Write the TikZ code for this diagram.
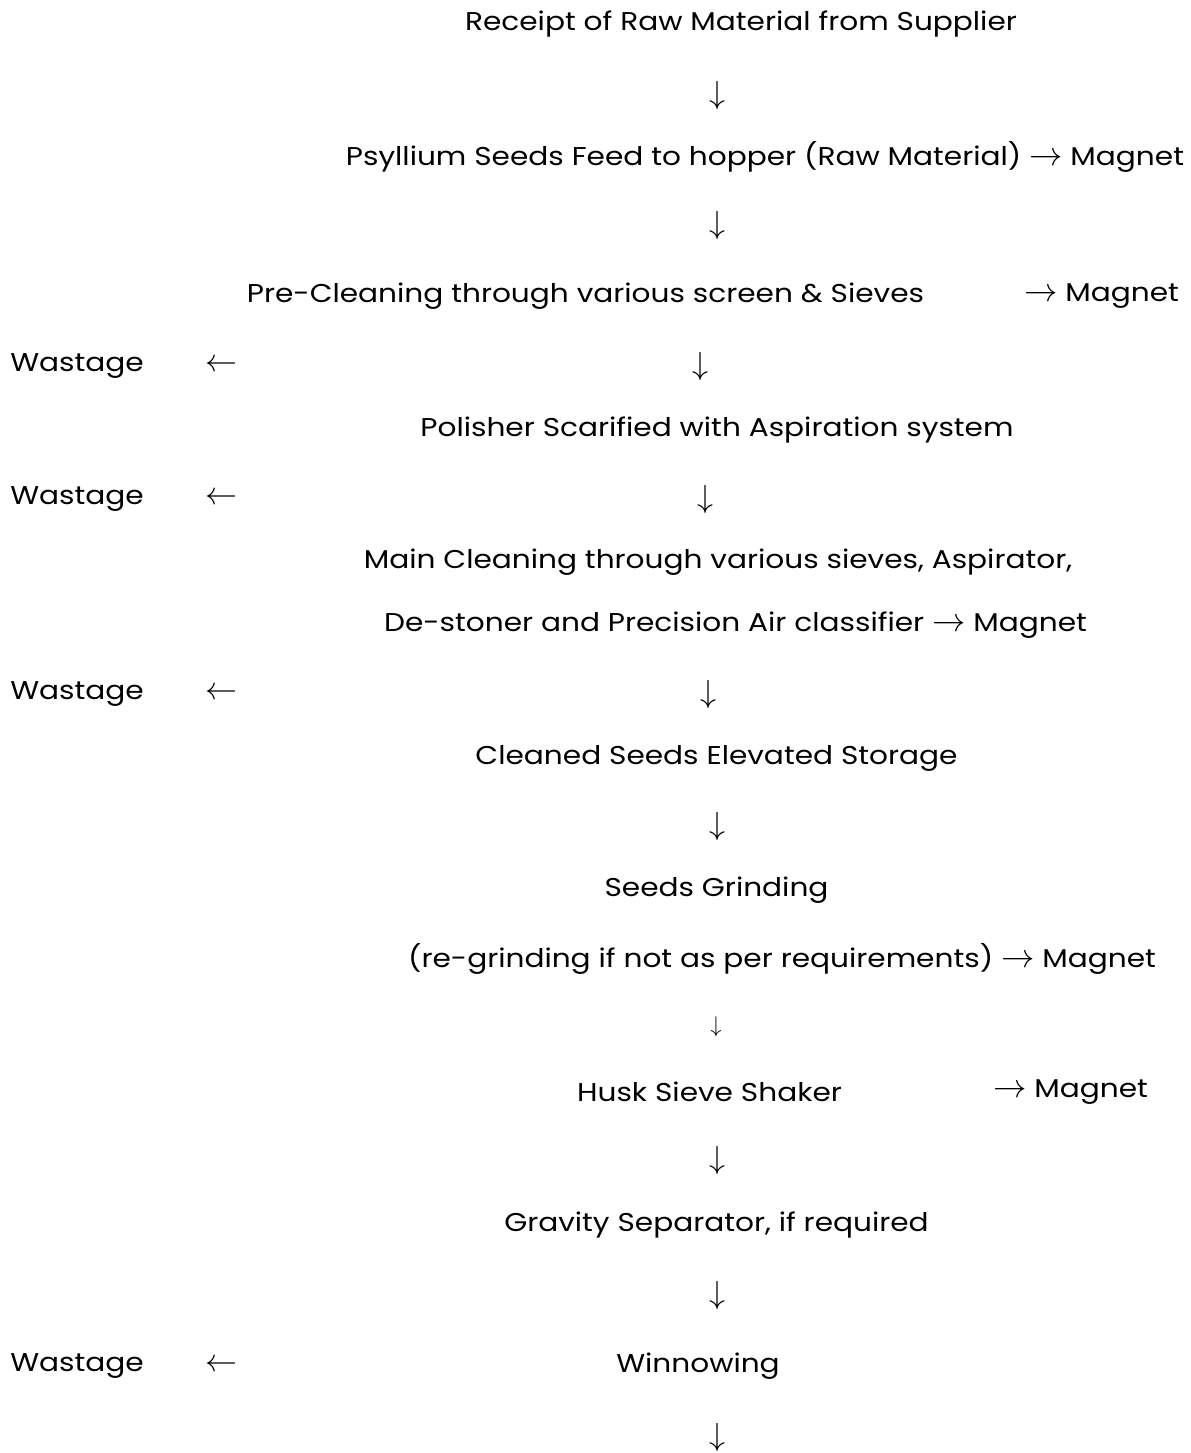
\RequirePackage{fix-cm}
\documentclass[tikz,border=0pt]{standalone}
\usepackage{fontspec}
\setmainfont{Poppins}[FakeStretch=1.15]
\tikzset{every picture/.style={line width=0.75pt}}
\tikzset{
  flowtext/.style={inner sep=0.75pt, font=\fontsize{19.3}{23}\selectfont},
  flowarrow/.style={inner sep=0pt, font=\fontsize{24}{24}\selectfont},
  smallarrow/.style={inner sep=0pt, font=\fontsize{17}{17}\selectfont},
}
\begin{document}
\begin{tikzpicture}[x=0.75pt,y=0.75pt,yscale=-1,xscale=1]
\useasboundingbox (0,0) rectangle (1191,1453);

% Main column
\node[flowtext] (receipt) at (741,24) {Receipt of Raw Material from Supplier};
\node[flowarrow] (d1) at (717,95) {$\downarrow$};
\node[flowtext] (feed) at (765,157) {Psyllium Seeds Feed to hopper (Raw Material) {\fontsize{25}{25}\selectfont$\rightarrow$} Magnet};
\node[flowarrow] (d2) at (717,225) {$\downarrow$};
\node[flowtext] (preclean) at (585.5,296) {Pre-Cleaning through various screen \& Sieves};
\node[flowtext] (mag1) at (1101.5,296) {{\fontsize{25}{25}\selectfont$\rightarrow$} Magnet};
\node[flowarrow] (d3) at (700,366) {$\downarrow$};
\node[flowtext] (polish) at (717,430) {Polisher Scarified with Aspiration system};
\node[flowarrow] (d4) at (705,499) {$\downarrow$};
\node[flowtext] (main1) at (718,562) {Main Cleaning through various sieves, Aspirator,};
\node[flowtext] (main2) at (735.5,625) {De-stoner and Precision Air classifier {\fontsize{25}{25}\selectfont$\rightarrow$} Magnet};
\node[flowarrow] (d5) at (708,694) {$\downarrow$};
\node[flowtext] (storage) at (716.5,758) {Cleaned Seeds Elevated Storage};
\node[flowarrow] (d6) at (717,826) {$\downarrow$};
\node[flowtext] (grind) at (716.5,890) {Seeds Grinding};
\node[flowtext] (regrind) at (782,959) {(re-grinding if not as per requirements) {\fontsize{25}{25}\selectfont$\rightarrow$} Magnet};
\node[smallarrow] (d7) at (716,1027) {$\downarrow$};
\node[flowtext] (husk) at (709.5,1092) {Husk Sieve Shaker};
\node[flowtext] (mag2) at (1070.5,1092) {{\fontsize{25}{25}\selectfont$\rightarrow$} Magnet};
\node[flowarrow] (d8) at (717,1160) {$\downarrow$};
\node[flowtext] (gravity) at (716.5,1225) {Gravity Separator, if required};
\node[flowarrow] (d9) at (717,1295) {$\downarrow$};
\node[flowtext] (winnow) at (698,1366) {Winnowing};
\node[flowarrow] (d10) at (717,1437) {$\downarrow$};

% Wastage side
\node[flowtext] (waste1) at (77,366) {Wastage};
\node[flowarrow] (l1) at (221,366) {$\leftarrow$};
\node[flowtext] (waste2) at (77,499) {Wastage};
\node[flowarrow] (l2) at (221,499) {$\leftarrow$};
\node[flowtext] (waste3) at (77,694) {Wastage};
\node[flowarrow] (l3) at (221,694) {$\leftarrow$};
\node[flowtext] (waste4) at (77,1366) {Wastage};
\node[flowarrow] (l4) at (221,1366) {$\leftarrow$};

\end{tikzpicture}
\end{document}
